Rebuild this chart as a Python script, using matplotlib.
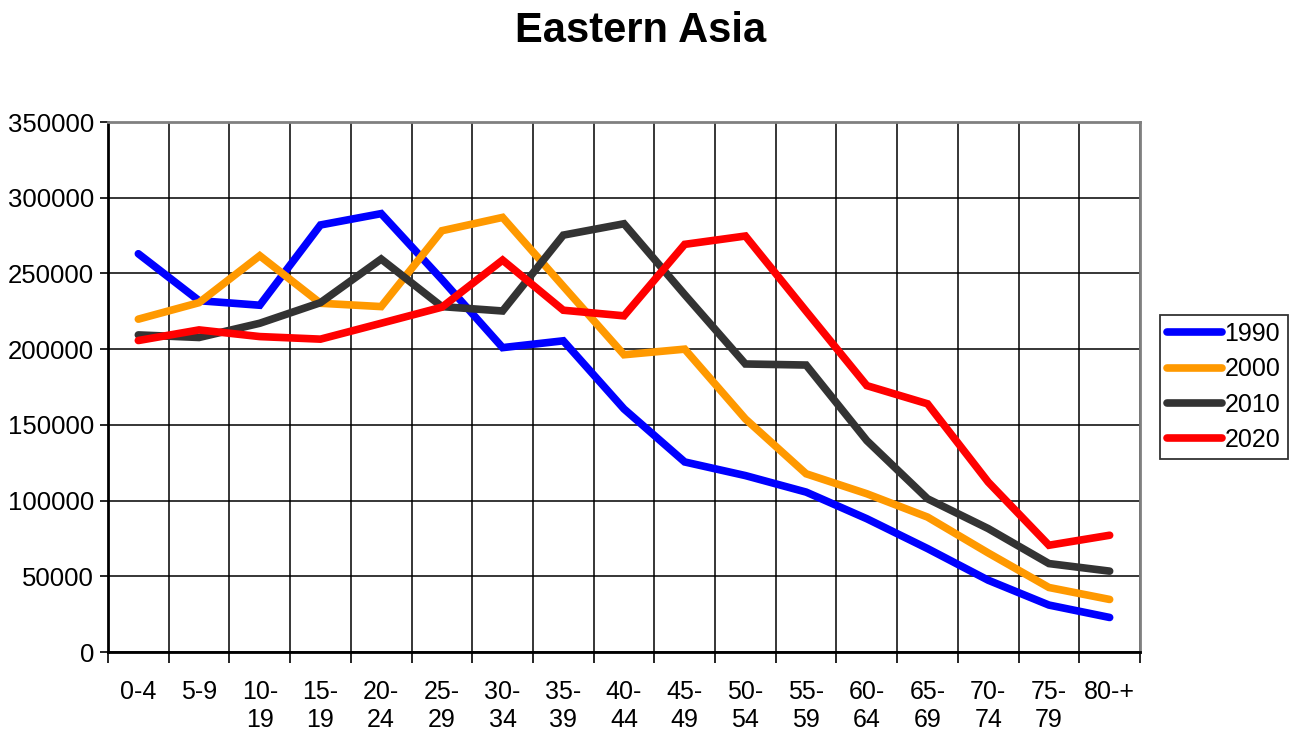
import numpy as np
import matplotlib
matplotlib.use('Agg')
from matplotlib import pyplot as plt

plt.rcParams['font.family'] = ['Liberation Sans', 'DejaVu Sans']

# age groups
groups = ['0-4', '5-9', '10-\n19', '15-\n19', '20-\n24', '25-\n29', '30-\n34', '35-\n39',
          '40-\n44', '45-\n49', '50-\n54', '55-\n59', '60-\n64', '65-\n69', '70-\n74',
          '75-\n79', '80-+']

pop_1990 = [263000, 232000, 229000, 282000, 289500, 246000, 201000, 205500, 160500,
            125500, 116500, 105600, 88000, 68300, 47400, 31000, 22800]
pop_2000 = [219800, 230700, 261700, 230300, 228100, 278200, 287000, 241500, 196300,
            200000, 153900, 117700, 104500, 89100, 65400, 42600, 34700]
pop_2010 = [209400, 207700, 217100, 230700, 259500, 228100, 225200, 275300, 282800,
            236000, 190200, 189500, 139600, 101200, 81500, 58400, 53400]
pop_2020 = [205700, 212700, 208300, 206600, 217100, 227700, 258800, 225700, 222000,
            269200, 274700, 225100, 175900, 163900, 112200, 70500, 77100]

series = [('1990', pop_1990, '#0000ff'),
          ('2000', pop_2000, '#ff9900'),
          ('2010', pop_2010, '#333333'),
          ('2020', pop_2020, '#ff0000')]

fig = plt.figure(figsize=(12.99, 7.36), dpi=100)
ax = fig.add_axes([108 / 1299, 1 - 652 / 736, (1140 - 108) / 1299, (652 - 122) / 736])

x = np.arange(len(groups))
for name, vals, col in series:
    ax.plot(x, vals, color=col, lw=5.5, label=name, solid_capstyle='round',
            solid_joinstyle='miter', zorder=3)

ax.set_xlim(-0.5, len(groups) - 0.5)
ax.set_ylim(0, 350000)
ax.set_yticks(np.arange(0, 350001, 50000))
ax.tick_params(axis='y', labelsize=18.5, length=6, width=1.2, direction='out', pad=4)

# boundaries as major ticks (grid + tick marks), labels on minor ticks at centers
ax.set_xticks(np.arange(-0.5, len(groups), 1.0))
ax.set_xticklabels([])
ax.set_xticks(x, minor=True)
ax.set_xticklabels(groups, minor=True, fontsize=18, linespacing=1.2)
ax.tick_params(axis='x', which='major', length=8, width=1.2, direction='out')
ax.tick_params(axis='x', which='minor', length=0, pad=20)

ax.grid(True, which='major', color='black', lw=1.1)
ax.set_axisbelow(True)

for s in ['top', 'right']:
    ax.spines[s].set_color('#808080')
    ax.spines[s].set_linewidth(2)
ax.spines['left'].set_linewidth(2)
ax.spines['bottom'].set_linewidth(2)

fig.suptitle('Eastern Asia', fontsize=30, fontweight='bold', x=0.493, y=0.985)

leg = ax.legend(loc='center left', bbox_to_anchor=(1.019, 0.50), fontsize=18,
                frameon=True, fancybox=False, edgecolor='black', handlelength=2.2,
                handletextpad=0.1, borderpad=0.3, labelspacing=0.45, borderaxespad=0)
leg.get_frame().set_linewidth(1.3)

fig.savefig('out.png', dpi=100)
